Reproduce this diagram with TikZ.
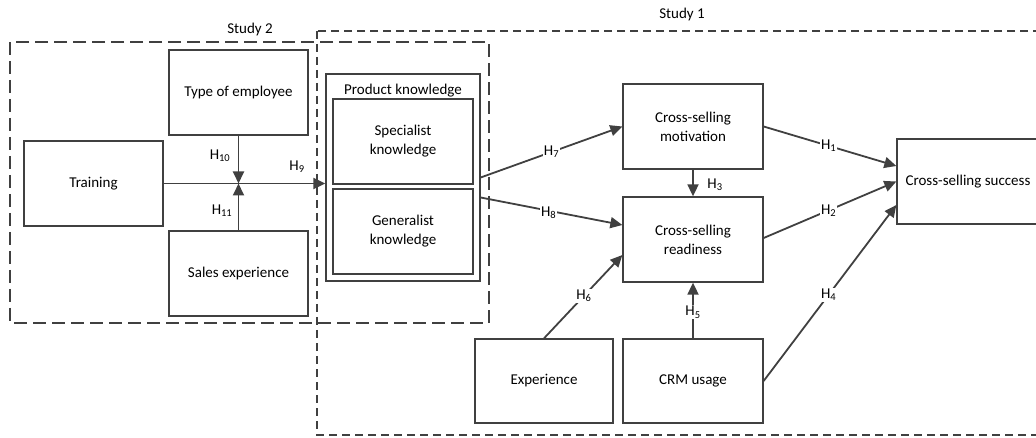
\documentclass[tikz,border=0pt]{standalone}
\usepackage{fontspec}
\setmainfont{Carlito}
\usetikzlibrary{arrows.meta,calc}

\begin{document}
\begin{tikzpicture}[x=1pt,y=-1pt,
  every node/.style={font=\fontsize{15}{19}\selectfont, text=black},
  box/.style={draw=black!75, line width=1.3pt, fill=white, minimum width=139pt,
              minimum height=85pt, align=center, inner sep=0pt},
  link/.style={draw=black!75, line width=1.8pt, -{Triangle[length=12pt,width=11pt]}},
  hyp/.style={fill=white, inner sep=1.2pt},
  studyA/.style={draw=black!75, line width=1.3pt, dash pattern=on 13pt off 6pt},
  studyB/.style={draw=black!75, line width=1.2pt, dash pattern=on 8pt off 5pt}]

\useasboundingbox (0,0) rectangle (1036,438);

% study frames
\draw[studyB] (317,31) rectangle (1042,435);
\draw[studyA] (10,42) rectangle (489,323);
\node (s2) at (250,30) {Study 2};
\node (s1) at (682,15) {Study 1};

% study 2 constructs
\node[box] (train) at (93.5,183.5) {Training};
\node[box] (type)  at (238.5,92.5) {Type of employee};
\node[box] (sales) at (238.5,273.5) {Sales experience};

% product knowledge
\node[box, minimum width=154pt, minimum height=207pt] (pk) at (403,177.5) {};
\node (pklab) at (403,91) {Product knowledge};
\node[box, minimum width=140pt] (spec) at (403,141.5) {Specialist\\knowledge};
\node[box, minimum width=140pt] (gen)  at (403,231.5) {Generalist\\knowledge};

% study 1 constructs
\node[box, minimum width=140pt] (mot)   at (693,126.5) {Cross-selling\\motivation};
\node[box, minimum width=140pt] (ready) at (693,239.5) {Cross-selling\\readiness};
\node[box, minimum width=138pt, minimum height=84pt] (exp) at (544,381) {Experience};
\node[box, minimum width=140pt, minimum height=84pt] (crm) at (693,381) {CRM usage};
\node[box, minimum width=142pt] (succ) at (968,181.5) {Cross-selling success};

% training -> product knowledge, with moderators
\coordinate (junc) at (type.south |- train.east);
\draw[link] (train.east) -- (train.east -| pk.west);
\draw[link] (type.south) -- (junc);
\draw[link] (sales.north) -- (junc);
\node (h10) at (220,156) {H\textsubscript{10}};
\node (h11) at (222,211) {H\textsubscript{11}};
\node (h9)  at (297,167) {H\textsubscript{9}};

% product knowledge -> motivation / readiness
\draw[link] (pk.east) -- node[hyp, pos=0.5] {H\textsubscript{7}} (mot.west);
\draw[link] ([yshift=-20pt]pk.east) -- node[hyp, pos=0.48, yshift=-2pt] {H\textsubscript{8}} ([yshift=14.5pt]ready.west);

% motivation -> readiness
\draw[link] (mot.south) -- (ready.north);
\node (h3) at (715,185) {H\textsubscript{3}};

% experience and CRM usage -> readiness
\draw[link] (exp.north) -- node[hyp, pos=0.51] {H\textsubscript{6}} ([yshift=-15.5pt]ready.west);
\draw[link] (crm.north) -- node[hyp, pos=0.47] {H\textsubscript{5}} (ready.south);

% paths to cross-selling success
\draw[link] (mot.east) -- node[hyp, pos=0.49] {H\textsubscript{1}} ([yshift=15.5pt]succ.west);
\draw[link] ([yshift=1.5pt]ready.east) -- node[hyp, pos=0.49] {H\textsubscript{2}} (succ.west);
\draw[link] (crm.east) -- node[hyp, pos=0.49] {H\textsubscript{4}} ([yshift=-23.5pt]succ.west);

\end{tikzpicture}
\end{document}
